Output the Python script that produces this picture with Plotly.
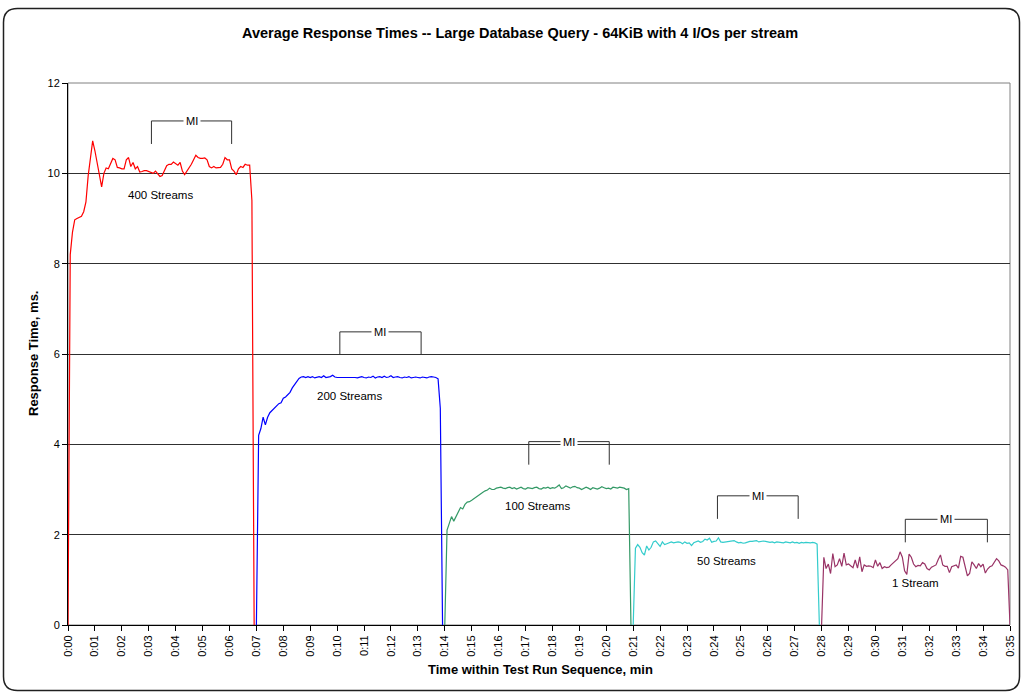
import plotly.graph_objects as go
import numpy as np

# ---------------- data ----------------
SAMPLE_MIN = 5 / 60  # one sample every 5 seconds

seg_names = ["400 Streams", "200 Streams", "100 Streams", "50 Streams", "1 Stream"]
seg_start = [0, 7, 14, 21, 28]
seg_colors = ["#FF0000", "#0000FF", "#339966", "#33CCCC", "#993366"]

rt_400 = [0, 8.2, 8.7, 8.97, 9.0, 9.03, 9.05, 9.15, 9.37, 9.95,
          10.3, 10.72, 10.5, 10.22, 9.9, 9.7, 10.0, 10.12, 10.1, 10.2,
          10.33, 10.3, 10.13, 10.12, 10.1, 10.1, 10.3, 10.35, 10.15, 10.24,
          10.1, 10.15, 10.03, 10.04, 10.06, 10.06, 10.04, 10.01, 10.0, 10.05,
          10.0, 9.93, 9.95, 10.05, 10.17, 10.2, 10.2, 10.25, 10.22, 10.18,
          10.24, 10.05, 9.97, 10.05, 10.1, 10.2, 10.3, 10.4, 10.35, 10.33,
          10.33, 10.34, 10.3, 10.15, 10.12, 10.15, 10.12, 10.12, 10.13, 10.2,
          10.35, 10.3, 10.3, 10.1, 10.05, 9.97, 10.1, 10.15, 10.13, 10.2,
          10.18, 10.18, 9.4, 0]

rt_200 = [0, 4.2, 4.35, 4.6, 4.43, 4.6, 4.7, 4.75, 4.8, 4.85,
          4.9, 4.92, 5.02, 5.05, 5.09, 5.15, 5.25, 5.33, 5.4, 5.46,
          5.49, 5.5, 5.48, 5.5, 5.48, 5.5, 5.47, 5.49, 5.5, 5.48,
          5.52, 5.48, 5.49, 5.5, 5.53, 5.49, 5.48, 5.48, 5.48, 5.49,
          5.48, 5.48, 5.49, 5.48, 5.48, 5.47, 5.48, 5.5, 5.48, 5.47,
          5.49, 5.48, 5.51, 5.47, 5.49, 5.5, 5.48, 5.51, 5.48, 5.49,
          5.52, 5.48, 5.49, 5.5, 5.48, 5.47, 5.49, 5.48, 5.5, 5.47,
          5.48, 5.49, 5.48, 5.47, 5.49, 5.48, 5.47, 5.49, 5.5, 5.49,
          5.48, 5.45, 4.8, 0]

rt_100 = [0, 2.1, 2.25, 2.4, 2.3, 2.4, 2.5, 2.6, 2.57, 2.67,
          2.72, 2.73, 2.76, 2.8, 2.83, 2.88, 2.9, 2.94, 2.97, 2.99,
          3.03, 3.0, 3.0, 3.03, 3.04, 3.05,
          3.03, 3.02, 3.04, 3.05, 3.02, 3.04, 3.01, 3.03, 3.05, 3.02,
          3.01, 3.04, 3.03, 3.02, 3.04, 3.05, 3.02, 3.01, 3.04, 3.03,
          3.05, 3.02, 3.04, 3.03, 3.06, 3.1, 3.02, 3.04, 3.08, 3.05,
          3.03, 3.06, 3.07, 3.04, 3.03, 3.0, 3.02, 3.05, 3.03, 3.0,
          3.04, 3.03, 3.01, 3.03, 3.06, 3.04, 3.02, 3.03, 3.01, 3.05,
          3.04, 3.03, 3.05, 3.04, 3.03, 3.0, 3.02, 0]

rt_50 = [0, 1.7, 1.78, 1.72, 1.6, 1.55, 1.75, 1.66, 1.72, 1.84,
         1.86, 1.8, 1.74, 1.84, 1.78, 1.8, 1.82, 1.84, 1.82, 1.83,
         1.84, 1.83, 1.8, 1.84, 1.81, 1.82, 1.76, 1.82, 1.84, 1.86,
         1.83, 1.85, 1.9, 1.88, 1.92, 1.83, 1.85, 1.86, 1.93, 1.84,
         1.83, 1.84, 1.85, 1.86, 1.86, 1.87, 1.84, 1.82, 1.83, 1.81,
         1.82, 1.84, 1.85, 1.85, 1.86, 1.87, 1.84, 1.85, 1.86, 1.85,
         1.84, 1.83, 1.84, 1.82, 1.84, 1.83, 1.83, 1.82, 1.84, 1.83,
         1.82, 1.84, 1.82, 1.83, 1.81, 1.83, 1.82, 1.83, 1.82, 1.82,
         1.83, 1.82, 1.79, 0]

rt_1 = [0, 1.5, 1.25, 1.35, 1.14, 1.58, 1.29, 1.33, 1.47, 1.3,
        1.59, 1.33, 1.35, 1.3, 1.27, 1.44, 1.26, 1.51, 1.18, 1.33,
        1.3, 1.31, 1.3, 1.27, 1.44, 1.3, 1.38, 1.25, 1.29, 1.27,
        1.28, 1.33, 1.38, 1.42, 1.47, 1.62, 1.5, 1.2, 1.12, 1.57,
        1.5, 1.35, 1.29, 1.32, 1.31, 1.38, 1.35, 1.25, 1.22, 1.28,
        1.3, 1.33, 1.45, 1.55, 1.33, 1.3, 1.3, 1.16, 1.29, 1.31,
        1.33, 1.26, 1.52, 1.5, 1.3, 1.09, 1.14, 1.4, 1.33, 1.25,
        1.36, 1.29, 1.35, 1.15, 1.24, 1.29, 1.31, 1.38, 1.47, 1.42,
        1.33, 1.31, 1.28, 1.22, 0]

series = [rt_400, rt_200, rt_100, rt_50, rt_1]

tick_vals = list(range(0, 36))
tick_text = ["0:00", "0:01", "0:02", "0:03", "0:04", "0:05", "0:06", "0:07", "0:08", "0:09",
             "0:10", "0:11", "0:12", "0:13", "0:14", "0:15", "0:16", "0:17", "0:18", "0:19",
             "0:20", "0:21", "0:22", "0:23", "0:24", "0:25", "0:26", "0:27", "0:28", "0:29",
             "0:30", "0:31", "0:32", "0:33", "0:34", "0:35"]

# MI (measurement interval) brackets: start/end in minutes, top value
mi_start = [3.1, 10.1, 17.12, 24.13, 31.11]
mi_end = [6.08, 13.12, 20.11, 27.13, 34.16]
mi_top = [11.16, 6.49, 4.06, 2.86, 2.34]
MI_DROP = 0.51

# label positions (minutes, ms)
lbl_x = [3.42, 10.46, 17.45, 24.47, 31.5]
lbl_y = [9.52, 5.07, 2.63, 1.42, 0.92]

# ---------------- figure ----------------
W, H = 1023, 694
PL, PR, PT, PB = 68, 1010, 83, 625
FONT = "Liberation Sans, Arial, sans-serif"


def px(x):
    return (x - PL) / (PR - PL)


def py(y):
    return (PB - y) / (PB - PT)


fig = go.Figure()
for name, start, color, vals in zip(seg_names, seg_start, seg_colors, series):
    t = start + np.arange(len(vals)) * SAMPLE_MIN
    fig.add_trace(go.Scatter(x=t, y=vals, mode="lines", name=name,
                             line=dict(color=color, width=1.2), showlegend=False))

shapes = []
annotations = []

# plot area border (gray)
shapes.append(dict(type="rect", xref="paper", yref="paper", x0=0, x1=1, y0=0, y1=1,
                   line=dict(color="#808080", width=1), layer="below"))

# MI brackets
for s, e, top in zip(mi_start, mi_end, mi_top):
    shapes.append(dict(type="path", xref="x", yref="y",
                       path=f"M {s},{top - MI_DROP} L {s},{top} L {e},{top} L {e},{top - MI_DROP}",
                       line=dict(color="#303030", width=1)))
    annotations.append(dict(x=(s + e) / 2, y=top, xref="x", yref="y", text="MI",
                            xanchor="center", yanchor="middle",
                            showarrow=False, bgcolor="white", borderpad=2,
                            font=dict(family=FONT, size=11, color="#000000")))

# stream labels
for name, lx, ly in zip(seg_names, lbl_x, lbl_y):
    annotations.append(dict(x=lx, y=ly, xref="x", yref="y", text=name, showarrow=False,
                            xanchor="center", yanchor="middle",
                            font=dict(family=FONT, size=11.5, color="#000000")))

# chart outer rounded border
L, R, T, B, r = 3.5, 1019.5, 8.5, 690.5, 14
path = (f"M {px(L + r)},{py(T)} L {px(R - r)},{py(T)} Q {px(R)},{py(T)} {px(R)},{py(T + r)} "
        f"L {px(R)},{py(B - r)} Q {px(R)},{py(B)} {px(R - r)},{py(B)} "
        f"L {px(L + r)},{py(B)} Q {px(L)},{py(B)} {px(L)},{py(B - r)} "
        f"L {px(L)},{py(T + r)} Q {px(L)},{py(T)} {px(L + r)},{py(T)} Z")
shapes.append(dict(type="path", xref="paper", yref="paper", path=path,
                   line=dict(color="#202020", width=1.5)))

# title and axis titles
annotations.append(dict(x=px(520), y=py(33), xref="paper", yref="paper",
                        xanchor="center", yanchor="middle",
                        text="<b>Average Response Times -- Large Database Query - 64KiB with 4 I/Os per stream</b>",
                        showarrow=False, font=dict(family=FONT, size=14.5, color="#000000")))
annotations.append(dict(x=px(33), y=py(354), xref="paper", yref="paper",
                        xanchor="center", yanchor="middle",
                        text="<b>Response Time, ms.</b>", textangle=-90,
                        showarrow=False, font=dict(family=FONT, size=13, color="#000000")))
annotations.append(dict(x=px(540), y=py(669), xref="paper", yref="paper",
                        xanchor="center", yanchor="middle",
                        text="<b>Time within Test Run Sequence, min</b>",
                        showarrow=False, font=dict(family=FONT, size=13, color="#000000")))

fig.update_layout(
    width=W, height=H,
    margin=dict(l=PL, r=W - PR, t=PT, b=H - PB, autoexpand=False),
    paper_bgcolor="white", plot_bgcolor="white",
    shapes=shapes, annotations=annotations,
    font=dict(family=FONT, size=11, color="#000000"),
    xaxis=dict(range=[0, 35], tickmode="array", tickvals=tick_vals, ticktext=tick_text,
               tickangle=-90, ticks="outside", ticklen=5, tickcolor="#000000",
               showline=True, linecolor="#000000", linewidth=1, showgrid=False,
               automargin=False,
               zeroline=False, tickfont=dict(family=FONT, size=11, color="#000000")),
    yaxis=dict(range=[0, 12], dtick=2, tick0=0, ticks="outside", ticklen=5,
               tickcolor="#000000", showline=True, linecolor="#000000", linewidth=1,
               showgrid=True, gridcolor="#303030", gridwidth=1, zeroline=False,
               automargin=False,
               tickfont=dict(family=FONT, size=11, color="#000000")),
)

fig.write_html("out.html", config={"displayModeBar": False},
               post_script="document.body.style.margin='0px';document.body.style.overflow='hidden';")
